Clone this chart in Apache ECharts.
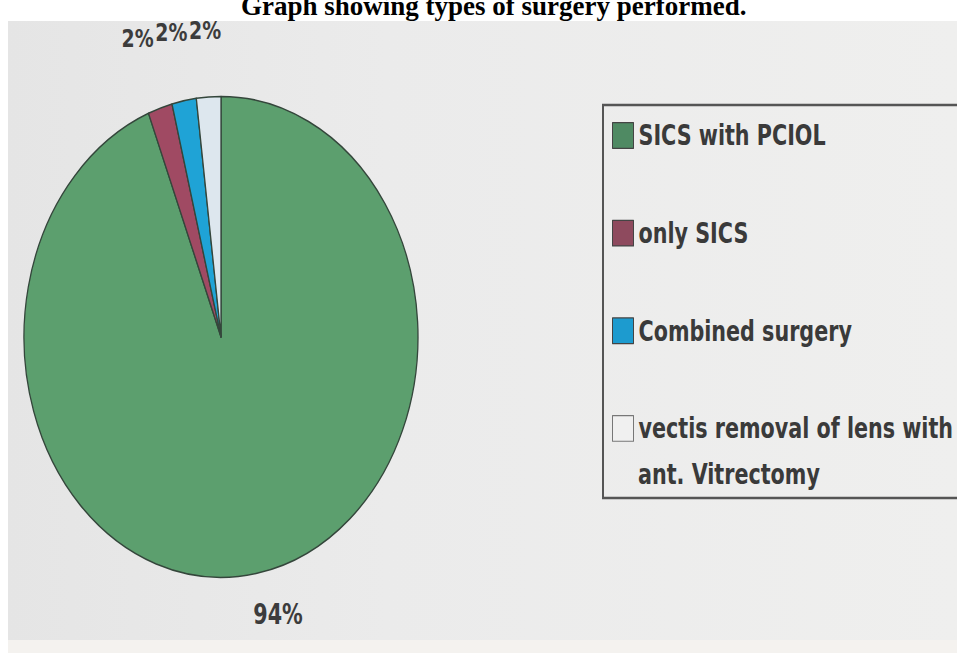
<!DOCTYPE html>
<html><head><meta charset="utf-8">
<script src="https://cdn.jsdelivr.net/npm/echarts@6/dist/echarts.min.js"></script>
<style>
html,body{margin:0;padding:0;background:#fff;}
#wrap{position:relative;width:957px;height:653px;overflow:hidden;background:#fff;}
#bg{position:absolute;left:8px;top:21px;width:949px;height:619px;background:linear-gradient(90deg,#e5e5e5,#ebebeb 40%,#efefee);}
#bg2{position:absolute;left:8px;top:640px;width:949px;height:13px;background:#f4f2ef;}
#pie{position:absolute;left:0;top:0;width:957px;height:535px;transform:scaleY(1.2206);transform-origin:0 0;}
#ttl{position:absolute;left:0;top:0;width:957px;height:40px;}
</style></head><body>
<div id="wrap"><div id="bg"></div><div id="bg2"></div><div id="pie"></div><div id="ttl"></div></div>
<script>
const titleText = 'Graph showing types of surgery performed.';
const categories = ['SICS with PCIOL', 'only SICS', 'Combined surgery', 'vectis removal of lens with\nant. Vitrectomy'];
const values = [94, 2, 2, 2];
const sliceColors = ['#5c9f6e', '#a04a63', '#1fa3d6', '#dde7ee'];
const legendColors = ['#4f8a63', '#8e4a5e', '#1d9bcf', '#f0f0f0'];

const narrow = "'DejaVu Sans Condensed', 'DejaVu Sans', sans-serif";

const labelLines = [
  { show: false, length: 34, length2: -16 },
  { show: false, length: 60, length2: -17 },
  { show: false, length: 57, length2: -19 },
  { show: false, length: 55, length2: -21 }
];

const pieData = categories.map((c, i) => ({
  name: c,
  value: values[i],
  itemStyle: { color: sliceColors[i] },
  label: { fontSize: i === 0 ? 23 : 21 },
  labelLine: labelLines[i]
}));

const legendData = categories.map((c, i) => ({
  name: c,
  itemStyle: { color: legendColors[i], borderColor: i === 3 ? '#777' : '#444', borderWidth: 1 }
}));

// the legend shows the first line of each name beside its icon; the continuation
// line of a wrapped name is written under it
const firstLine = name => name.split('\n')[0];
const continuation = categories[3].split('\n')[1];

const pieChart = echarts.init(document.getElementById('pie'), null, { renderer: 'svg' });
pieChart.setOption({
  animation: false,
  backgroundColor: 'transparent',
  title: {
    text: continuation,
    left: 638,
    top: 369.3,
    padding: 0,
    textStyle: { fontFamily: narrow, fontWeight: 'bold', fontSize: 23, lineHeight: 38, color: '#3a3a3a' }
  },
  legend: {
    orient: 'vertical',
    left: 603,
    top: 86,
    padding: [6, 40, 38, 9],
    icon: 'rect',
    itemWidth: 21,
    itemHeight: 21,
    itemGap: 42,
    borderColor: '#555',
    borderWidth: 2,
    borderRadius: 0,
    selectedMode: false,
    data: legendData,
    formatter: firstLine,
    textStyle: { fontFamily: narrow, fontWeight: 'bold', fontSize: 23, lineHeight: 38, color: '#3a3a3a' }
  },
  series: [{
    type: 'pie',
    center: [221, 276],
    radius: 197,
    startAngle: 90,
    clockwise: true,
    avoidLabelOverlap: false,
    labelLayout: { hideOverlap: false },
    label: {
      show: true,
      position: 'outside',
      formatter: '{c}%',
      fontFamily: narrow,
      fontWeight: 'bold',
      color: '#3c3c3c',
      distanceToLabelLine: 5
    },
    labelLine: { show: false },
    itemStyle: { borderColor: '#34463b', borderWidth: 1.3 },
    emphasis: { disabled: true },
    data: pieData
  }]
});

const titleChart = echarts.init(document.getElementById('ttl'), null, { renderer: 'svg' });
titleChart.setOption({
  animation: false,
  title: {
    text: titleText,
    left: 241,
    top: -8,
    padding: 0,
    textStyle: { fontFamily: "'Liberation Serif', 'Times New Roman', serif", fontWeight: 'bold', fontSize: 27, color: '#000' }
  }
});
</script>
</body></html>
